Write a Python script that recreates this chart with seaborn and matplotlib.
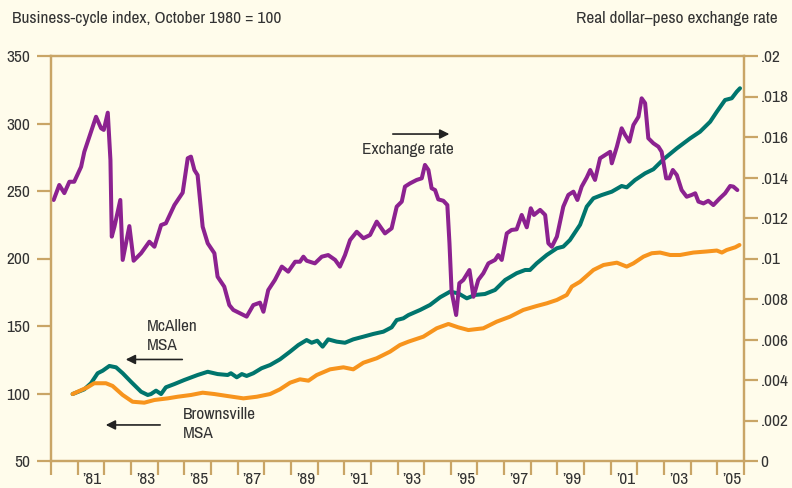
"""
McAllen / Brownsville business-cycle indexes vs. real dollar-peso exchange rate.
"""

import matplotlib
matplotlib.use("Agg")
import matplotlib.pyplot as plt
from matplotlib import font_manager
import seaborn as sns

# --- data ---
mcallen_t = [1980.81, 1981.25, 1981.50, 1981.75, 1981.94, 1982.19, 1982.44, 1982.69, 1983.00,
             1983.38, 1983.63, 1983.75, 1983.94, 1984.13, 1984.31, 1984.63, 1985.00, 1985.50,
             1985.88, 1986.25, 1986.63, 1986.75, 1986.97, 1987.16, 1987.34, 1987.59, 1987.90,
             1988.22, 1988.59, 1988.97, 1989.28, 1989.59, 1989.78, 1989.99, 1990.19, 1990.40,
             1990.72, 1991.03, 1991.34, 1991.72, 1992.09, 1992.47, 1992.78, 1992.97, 1993.22,
             1993.41, 1993.85, 1994.22, 1994.60, 1994.97, 1995.28, 1995.60, 1995.91, 1996.28,
             1996.66, 1997.04, 1997.47, 1997.79, 1997.97, 1998.22, 1998.60, 1998.98, 1999.22,
             1999.47, 1999.85, 2000.10, 2000.35, 2000.66, 2001.04, 2001.41, 2001.60, 2001.91,
             2002.29, 2002.60, 2002.98, 2003.48, 2003.98, 2004.35, 2004.73, 2004.98, 2005.29,
             2005.54, 2005.73, 2005.85]
mcallen_v = [99.6, 103.1, 107.6, 115.0, 116.9, 120.4, 119.4, 115.0, 108.7,
             101.3, 98.9, 99.6, 102.1, 99.6, 104.6, 107.0, 110.0, 113.7,
             116.1, 114.4, 113.7, 115.0, 112.0, 114.4, 113.0, 115.0, 118.7,
             121.1, 125.3, 131.0, 135.9, 139.6, 137.6, 139.1, 134.7, 140.1,
             138.4, 137.6, 140.1, 142.1, 144.1, 145.8, 149.0, 154.4, 155.7,
             158.1, 161.9, 165.6, 171.3, 175.4, 174.2, 170.5, 173.0, 173.7,
             176.7, 184.1, 189.1, 191.5, 191.5, 196.4, 202.6, 207.6, 208.8,
             213.7, 225.0, 238.4, 244.6, 247.0, 249.5, 253.7, 252.7, 258.1,
             263.1, 266.1, 273.5, 281.6, 289.0, 293.9, 301.3, 308.7, 317.4,
             318.7, 323.6, 326.1]

brownsville_t = [1980.81, 1981.37, 1981.62, 1982.06, 1982.31, 1982.69, 1983.06, 1983.50, 1983.88,
                 1984.38, 1984.75, 1985.25, 1985.69, 1986.13, 1986.63, 1987.22, 1987.72, 1988.22,
                 1988.59, 1988.97, 1989.34, 1989.66, 1989.97, 1990.47, 1990.97, 1991.34, 1991.72,
                 1992.22, 1992.72, 1993.09, 1993.41, 1993.97, 1994.47, 1994.91, 1995.28, 1995.66,
                 1996.22, 1996.72, 1997.22, 1997.72, 1998.22, 1998.60, 1998.98, 1999.35, 1999.54,
                 1999.85, 2000.35, 2000.73, 2001.23, 2001.60, 2001.85, 2002.23, 2002.54, 2002.85,
                 2003.23, 2003.60, 2004.10, 2004.60, 2004.98, 2005.17, 2005.35, 2005.67, 2005.83]
brownsville_v = [99.6, 104.6, 107.6, 107.6, 105.6, 98.9, 93.9, 93.2, 95.2,
                 96.4, 97.6, 98.9, 100.6, 99.6, 98.1, 96.4, 97.6, 99.6,
                 103.1, 108.0, 110.5, 109.5, 113.7, 117.9, 119.4, 117.9, 122.8,
                 126.1, 131.0, 135.9, 138.4, 142.1, 148.3, 151.5, 149.0, 147.0,
                 148.3, 153.2, 156.9, 161.9, 164.8, 166.8, 169.3, 173.0, 179.2,
                 182.8, 191.5, 195.2, 196.9, 194.0, 196.4, 201.4, 203.9, 204.4,
                 202.6, 202.6, 204.4, 205.2, 205.9, 204.4, 206.3, 208.3, 210.0]

exrate_t = [1980.10, 1980.31, 1980.50, 1980.69, 1980.87, 1981.13, 1981.25, 1981.44, 1981.69,
            1981.88, 1981.98, 1982.13, 1982.23, 1982.28, 1982.38, 1982.60, 1982.69, 1982.94,
            1983.10, 1983.38, 1983.69, 1983.88, 1984.13, 1984.31, 1984.63, 1984.94, 1985.13,
            1985.25, 1985.38, 1985.50, 1985.69, 1985.88, 1986.13, 1986.25, 1986.50, 1986.69,
            1986.84, 1987.34, 1987.59, 1987.84, 1987.97, 1988.15, 1988.40, 1988.66, 1988.90,
            1989.16, 1989.34, 1989.47, 1989.59, 1989.90, 1990.16, 1990.40, 1990.66, 1990.84,
            1991.03, 1991.22, 1991.47, 1991.72, 1991.97, 1992.22, 1992.53, 1992.78, 1992.97,
            1993.16, 1993.28, 1993.47, 1993.72, 1993.91, 1994.03, 1994.16, 1994.28, 1994.41,
            1994.53, 1994.72, 1994.87, 1994.95, 1995.03, 1995.20, 1995.32, 1995.47, 1995.70,
            1995.85, 1996.03, 1996.22, 1996.41, 1996.66, 1996.78, 1996.91, 1997.10, 1997.28,
            1997.47, 1997.66, 1997.85, 1998.00, 1998.12, 1998.35, 1998.54, 1998.66, 1998.79,
            1998.98, 1999.22, 1999.41, 1999.60, 1999.75, 1999.91, 2000.10, 2000.23, 2000.41,
            2000.60, 2000.79, 2000.98, 2001.04, 2001.23, 2001.41, 2001.54, 2001.70, 2001.85,
            2002.04, 2002.16, 2002.29, 2002.41, 2002.60, 2002.79, 2002.91, 2003.08, 2003.20,
            2003.33, 2003.48, 2003.66, 2003.85, 2004.04, 2004.17, 2004.29, 2004.48, 2004.66,
            2004.85, 2005.09, 2005.29, 2005.48, 2005.60, 2005.75]
exrate_v = [.01289, .01363, .01323, .01379, .01379, .01453, .01527, .01601, .01700,
            .01643, .01635, .01720, .01486, .01108, .01157, .01289, .00993, .01160,
            .00989, .01026, .01083, .01058, .01165, .01174, .01264, .01325, .01495,
            .01503, .01437, .01412, .01157, .01075, .01026, .00910, .00861, .00770,
            .00746, .00713, .00770, .00782, .00737, .00844, .00894, .00960, .00935,
            .00984, .00984, .01009, .00989, .00976, .01009, .01017, .00993, .00960,
            .01017, .01091, .01132, .01100, .01116, .01182, .01124, .01149, .01256,
            .01281, .01355, .01371, .01388, .01396, .01462, .01437, .01347, .01338,
            .01292, .01285, .01264, .01075, .00836, .00721, .00878, .00894, .00943,
            .00811, .00894, .00927, .00976, .00993, .01017, .00993, .01124, .01141,
            .01144, .01215, .01154, .01248, .01215, .01240, .01215, .01075, .01058,
            .01108, .01256, .01314, .01330, .01289, .01355, .01400, .01437, .01388,
            .01495, .01511, .01527, .01470, .01552, .01643, .01610, .01577, .01659,
            .01700, .01791, .01767, .01594, .01569, .01552, .01527, .01396, .01396,
            .01437, .01412, .01338, .01305, .01314, .01322, .01281, .01272, .01285,
            .01264, .01297, .01322, .01358, .01355, .01338]

year_ticks = list(range(1980, 2007))
label_years = list(range(1981, 2006, 2))
left_ticks = [50, 100, 150, 200, 250, 300, 350]
right_ticks = [0, .002, .004, .006, .008, .01, .012, .014, .016, .018, .02]
right_labels = ["0", ".002", ".004", ".006", ".008", ".01", ".012", ".014", ".016", ".018", ".02"]

TITLE_L = "Business-cycle index, October 1980 = 100"
TITLE_R = "Real dollar\u2013peso exchange rate"

# --- style ---
BG = "#FFFCEB"
SPINE = "#C9A566"
TXT = "#333333"
TEAL = "#00756D"
ORANGE = "#F7941D"
PURPLE = "#8C2290"

sns.set_theme(style="ticks")

# the original uses a condensed grotesque; take the narrowest regular face installed
def narrow_rank(f):
    if "Narrow" in f.name:
        return 0
    if str(f.stretch) in ("condensed", "75") or "Condensed" in f.name:
        return 1
    if str(f.stretch) in ("semi-condensed", "87"):
        return 2
    return 9

fonts = [f for f in font_manager.fontManager.ttflist
         if f.style == "normal" and f.weight in (400, "normal", "regular")]
fonts.sort(key=narrow_rank)
if fonts and narrow_rank(fonts[0]) < 9:
    plt.rcParams["font.family"] = [fonts[0].name, "DejaVu Sans"]
    plt.rcParams["font.stretch"] = fonts[0].stretch
else:
    plt.rcParams["font.family"] = ["Liberation Sans", "DejaVu Sans"]

# scale the text so the left header is as wide as in the reference (~268 px)
_f = plt.figure(figsize=(7.92, 4.88), dpi=100)
_t = _f.text(0, 0, TITLE_L, fontsize=12)
_w = _t.get_window_extent(renderer=_f.canvas.get_renderer()).width
plt.close(_f)
FS = max(10.0, min(13.0, 12 * 268 / _w))
plt.rcParams["font.size"] = FS

fig = plt.figure(figsize=(7.92, 4.88), dpi=100, facecolor=BG)
ax = fig.add_axes([51 / 792, 27 / 488, 693 / 792, 405 / 488], facecolor=BG)
ax2 = ax.twinx()

sns.lineplot(x=mcallen_t, y=mcallen_v, ax=ax, color=TEAL, lw=2.9, estimator=None)
sns.lineplot(x=brownsville_t, y=brownsville_v, ax=ax, color=ORANGE, lw=2.9, estimator=None)
sns.lineplot(x=exrate_t, y=exrate_v, ax=ax2, color=PURPLE, lw=2.9, estimator=None)

ax.set_xlim(1980, 2006)
ax.set_ylim(50, 350)
ax2.set_ylim(0, 0.02)

ax.set_yticks(left_ticks)
ax.set_yticklabels([str(t) for t in left_ticks])
ax2.set_yticks(right_ticks)
ax2.set_yticklabels(right_labels)

ax.set_xticks(year_ticks)
ax.set_xticklabels([""] * len(year_ticks))
ax.set_xticks([y + 0.55 for y in label_years], minor=True)
ax.set_xticklabels(["\u2019" + str(y)[2:] for y in label_years], minor=True)

for a in (ax, ax2):
    for s in a.spines.values():
        s.set_color(SPINE)
        s.set_linewidth(1.6)
    a.tick_params(which="major", length=10, width=1.6, color=SPINE, labelcolor=TXT, labelsize=FS)
    a.tick_params(which="minor", length=0, labelcolor=TXT, labelsize=FS)
    a.set_xlabel("")
    a.set_ylabel("")
ax.tick_params(axis="x", which="minor", pad=8)
ax.tick_params(axis="y", pad=5)
ax2.tick_params(axis="y", pad=2)

# --- annotations ---
fig.text(12 / 792, 1 - 18 / 488, TITLE_L, ha="left", va="center", color=TXT, fontsize=FS)
fig.text(778 / 792, 1 - 18 / 488, TITLE_R, ha="right", va="center", color=TXT, fontsize=FS)

ax.text(1993.4, 280.4, "Exchange rate", ha="center", va="center", color=TXT, fontsize=FS)
ax.annotate("", xy=(1995.05, 292.2), xytext=(1992.72, 292.2),
            arrowprops=dict(arrowstyle="-|>", color="#222222", lw=1.2, mutation_scale=14))

ax.text(1983.6, 142.6, "McAllen\nMSA", ha="left", va="center", color=TXT,
        fontsize=FS, linespacing=1.3)
ax.annotate("", xy=(1982.7, 125.2), xytext=(1985.03, 125.2),
            arrowprops=dict(arrowstyle="-|>", color="#222222", lw=1.2, mutation_scale=14))

ax.text(1984.95, 77.5, "Brownsville\nMSA", ha="left", va="center", color=TXT,
        fontsize=FS, linespacing=1.3)
ax.annotate("", xy=(1981.95, 76.7), xytext=(1984.2, 76.7),
            arrowprops=dict(arrowstyle="-|>", color="#222222", lw=1.2, mutation_scale=14))

fig.savefig("out.png", dpi=100, facecolor=BG)
